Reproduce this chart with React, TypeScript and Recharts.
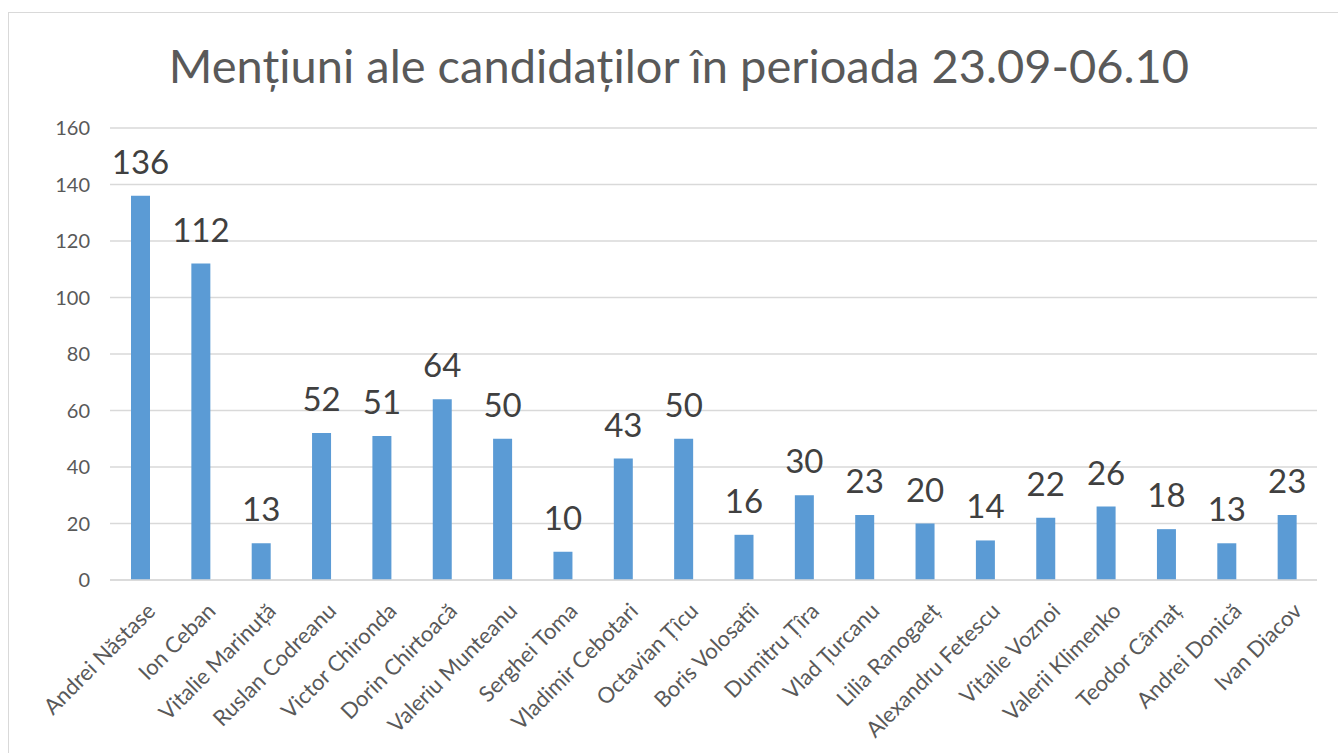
import React from "react";
import {
  BarChart,
  Bar,
  XAxis,
  YAxis,
  CartesianGrid,
  LabelList,
} from "recharts";

const candidates = [
  "Andrei Năstase",
  "Ion Ceban",
  "Vitalie Marinuță",
  "Ruslan Codreanu",
  "Victor Chironda",
  "Dorin Chirtoacă",
  "Valeriu Munteanu",
  "Serghei Toma",
  "Vladimir Cebotari",
  "Octavian Țîcu",
  "Boris Volosatîi",
  "Dumitru Țîra",
  "Vlad Țurcanu",
  "Lilia Ranogaeț",
  "Alexandru Fetescu",
  "Vitalie Voznoi",
  "Valerii Klimenko",
  "Teodor Cârnaț",
  "Andrei Donică",
  "Ivan Diacov",
];

const mentions = [136, 112, 13, 52, 51, 64, 50, 10, 43, 50, 16, 30, 23, 20, 14, 22, 26, 18, 13, 23];

const yTicks = [0, 20, 40, 60, 80, 100, 120, 140, 160];

const data = candidates.map((name, i) => ({ name, value: mentions[i] }));

const FONT = "Lato, 'Open Sans', sans-serif";

function NameTick(props: any) {
  const { x, y, payload } = props;
  return (
    <g transform={`translate(${x + 4},${y + 12})`}>
      <text
        transform="rotate(-45)"
        textAnchor="end"
        dominantBaseline="hanging"
        fontSize={22}
        fill="#595959"
        fontFamily={FONT}
      >
        {payload.value}
      </text>
    </g>
  );
}

export default function App() {
  return (
    <div
      style={{
        position: "absolute",
        left: 8,
        top: 12,
        width: 1340,
        height: 760,
        border: "1px solid #d9d9d9",
        background: "#fff",
        fontFamily: FONT,
      }}
    >
      <div
        style={{
          position: "absolute",
          left: 0,
          width: 1340,
          top: 24,
          textAlign: "center",
          fontSize: 47,
          color: "#595959",
          lineHeight: "56px",
        }}
      >
        Mențiuni ale candidaților în perioada 23.09-06.10
      </div>
      <BarChart
        width={1330}
        height={760}
        data={data}
        margin={{ top: 115, right: 22, bottom: 0, left: 0 }}
      >
        <CartesianGrid vertical={false} stroke="#d9d9d9" strokeWidth={1.5} />
        <YAxis
          width={101}
          domain={[0, 160]}
          ticks={yTicks}
          axisLine={false}
          tickLine={false}
          tickSize={0}
          tickMargin={20}
          tick={{ fontSize: 20, fill: "#595959", fontFamily: FONT }}
        />
        <XAxis
          dataKey="name"
          height={193}
          interval={0}
          axisLine={{ stroke: "#d9d9d9", strokeWidth: 1.5 }}
          tickLine={false}
          tick={<NameTick />}
        />
        <Bar dataKey="value" fill="#5B9BD5" barSize={19} isAnimationActive={false}>
          <LabelList
            dataKey="value"
            position="top"
            offset={22}
            fontSize={33}
            fill="#404040"
            fontFamily={FONT}
          />
        </Bar>
      </BarChart>
    </div>
  );
}
